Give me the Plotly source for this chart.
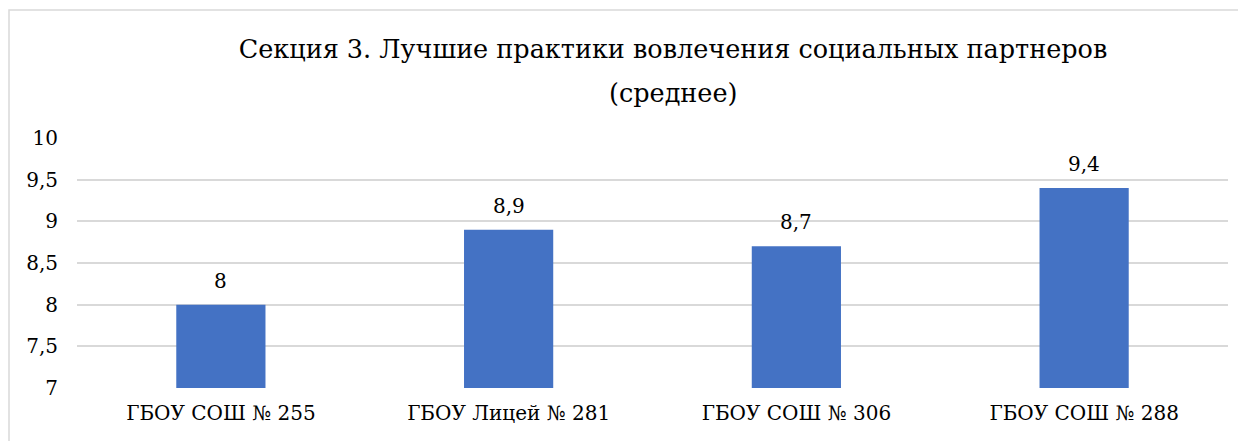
import plotly.graph_objects as go

categories = ["ГБОУ СОШ № 255", "ГБОУ Лицей № 281", "ГБОУ СОШ № 306", "ГБОУ СОШ № 288"]
values = [8.0, 8.9, 8.7, 9.4]
value_labels = ["8", "8,9", "8,7", "9,4"]
tick_vals = [7, 7.5, 8, 8.5, 9, 9.5, 10]
tick_text = ["7", "7,5", "8", "8,5", "9", "9,5", "10"]
title_line1 = "Секция 3. Лучшие практики вовлечения социальных партнеров"
title_line2 = "(среднее)"

FONT = "DejaVu Serif"

fig = go.Figure()
fig.add_trace(go.Bar(
    x=categories, y=values, marker_color="#4472C4", marker_line_width=0,
    hoverinfo="skip",
))

for c, v, t in zip(categories, values, value_labels):
    fig.add_annotation(x=c, y=v, text=t, showarrow=False, yanchor="bottom",
                       yshift=10, font=dict(family=FONT, size=20, color="#000000"))

# page body has an 8px margin: compensate so the plot lands where the reference has it
OFF = 8
W, H = 1246, 441
l, r, t, b = 77 - OFF, 18 + OFF, 138 - OFF, 53 + OFF
PW, PH = W - l - r, H - t - b
TX = (673 - OFF - l) / PW

fig.add_annotation(
    text=title_line2, showarrow=False, xref="paper", yref="paper",
    x=TX, xanchor="center", y=1 + (t - (93 - OFF)) / PH, yanchor="middle",
    font=dict(family=FONT, size=25.5, color="#000000"),
)

fig.update_layout(
    width=W, height=H,
    margin=dict(l=l, r=r, t=t, b=b),
    paper_bgcolor="white", plot_bgcolor="white",
    bargap=0.69,
    showlegend=False,
    title=dict(
        text=title_line1,
        font=dict(family=FONT, size=25.5, color="#000000"),
        x=TX, xref="paper", xanchor="center",
        y=1 - (49 - OFF) / H, yref="container", yanchor="middle",
    ),
    font=dict(family=FONT, color="#000000"),
    xaxis=dict(
        tickfont=dict(family=FONT, size=20, color="#000000"),
        showgrid=False, showline=False, zeroline=False,
        ticks="", ticklabelstandoff=11,
    ),
    yaxis=dict(
        range=[7, 10], tickvals=tick_vals, ticktext=tick_text,
        tickfont=dict(family=FONT, size=20, color="#000000"),
        showgrid=True, gridcolor="#d9d9d9", gridwidth=1.5,
        zeroline=False, showline=False, ticks="", ticklabelstandoff=18,
    ),
    shapes=[dict(type="rect", xref="paper", yref="paper",
                 x0=(9 - OFF - l) / PW, x1=1.2,
                 y0=-0.5, y1=1 + (t - (10 - OFF)) / PH,
                 line=dict(color="#d9d9d9", width=1.5), layer="below")],
)

fig.write_html("out.html")
